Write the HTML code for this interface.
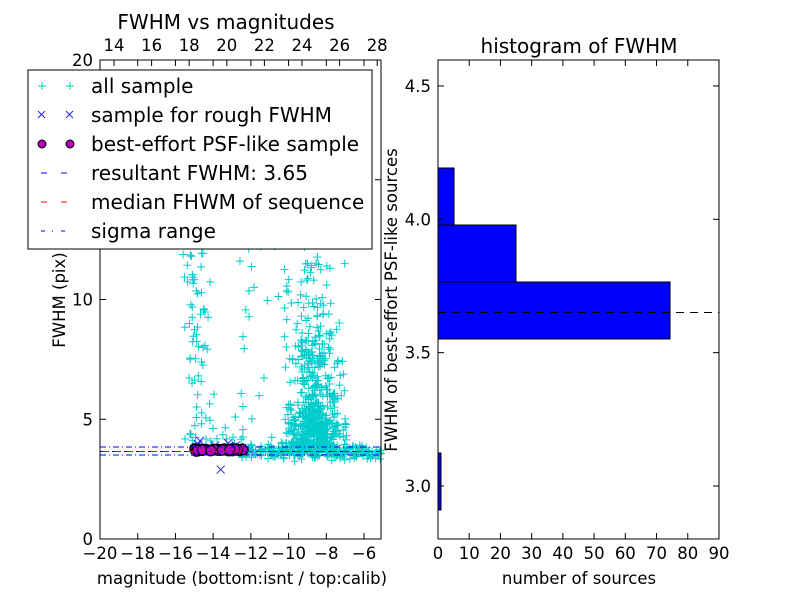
<!DOCTYPE html>
<html><head><meta charset="utf-8"><style>
body{margin:0;background:#fff;font-family:"Liberation Sans","DejaVu Sans",sans-serif}
svg text{font-family:"DejaVu Sans","Liberation Sans",sans-serif}
</style></head><body>
<svg id="s" width="800" height="600" xmlns="http://www.w3.org/2000/svg">
<rect width="800" height="600" fill="#fff"/>
<g id="pts"></g>
<g id="circ"></g>
<line x1="100" x2="381" y1="451.5" y2="451.5" stroke="#00f" stroke-dasharray="6,6"/>
<line x1="103" x2="381" y1="451.5" y2="451.5" stroke="#f00" stroke-dasharray="6,6"/>
<line x1="100" x2="381" y1="447" y2="447" stroke="#00f" stroke-dasharray="6,3,1,3"/>
<line x1="100" x2="381" y1="455" y2="455" stroke="#00f" stroke-dasharray="6,3,1,3"/>
<rect x="100" y="60" width="281" height="479" fill="none" stroke="#000"/>
<g stroke="#000" id="lt"></g>
<g font-size="16.5" fill="#000" id="ltx"></g>
<text x="226" y="29" font-size="20" text-anchor="middle">FWHM vs magnitudes</text>
<text x="242" y="584" font-size="16.5" text-anchor="middle">magnitude (bottom:isnt / top:calib)</text>
<text transform="translate(65,300) rotate(-90)" font-size="16.5" text-anchor="middle">FWHM (pix)</text>
<rect x="28" y="70" width="344" height="179" fill="#fff" stroke="#000"/>
<g font-size="20" fill="#000">
<text x="91" y="93">all sample</text>
<text x="91" y="122">sample for rough FWHM</text>
<text x="91" y="151">best-effort PSF-like sample</text>
<text x="91" y="180">resultant FWHM: 3.65</text>
<text x="91" y="209">median FHWM of sequence</text>
<text x="91" y="238">sigma range</text>
</g>
<g stroke="#0cc"><path d="M38,86h8M42,82v8M66,86h8M70,82v8"/></g>
<g stroke="#22f"><path d="M38,111l7,7M45,111l-7,7M66,111l7,7M73,111l-7,7"/></g>
<circle cx="42" cy="144" r="4" fill="#b0b" stroke="#000"/><circle cx="70" cy="144" r="4" fill="#b0b" stroke="#000"/>
<path d="M41,173h6M61,173h6" stroke="#00f"/>
<path d="M41,202h6M61,202h6" stroke="#f00"/>
<path d="M41,231h4M52,231h1M61,231h4" stroke="#00f"/>
<rect x="438" y="453" width="3" height="57" fill="#00f" stroke="#000"/>
<rect x="438" y="282" width="232" height="57" fill="#00f" stroke="#000"/>
<rect x="438" y="225" width="78" height="57" fill="#00f" stroke="#000"/>
<rect x="438" y="168" width="16" height="57" fill="#00f" stroke="#000"/>
<line x1="438" x2="719" y1="312.5" y2="312.5" stroke="#000" stroke-dasharray="8,6"/>
<rect x="438" y="60" width="281" height="479" fill="none" stroke="#000"/>
<g stroke="#000" id="rt"></g>
<g font-size="16.5" fill="#000" id="rtx"></g>
<text x="579" y="53" font-size="20" text-anchor="middle">histogram of FWHM</text>
<text x="579" y="584" font-size="16.5" text-anchor="middle">number of sources</text>
<text transform="translate(397,300) rotate(-90)" font-size="16.5" text-anchor="middle">FWHM of best-effort PSF-like sources</text>
</svg>
<script>
var NS="http://www.w3.org/2000/svg";
function el(p,t,a,txt){var e=document.createElementNS(NS,t);for(var k in a)e.setAttribute(k,a[k]);if(txt!=null)e.textContent=txt;document.getElementById(p).appendChild(e);}
var seed=7;function r(){seed=(seed*16807)%2147483647;return seed/2147483647;}
function g(){return (r()+r()+r()+r()-2)*0.87;}
function X(m){return 100+(m+20)*18.86;}function Y(v){return 539-v*23.95;}
var d="";
function add(m,v){if(m<-20||m>-5.1||v<0||v>20)return;var x=X(m),y=Y(v);d+="M"+(x-4)+","+y+"h8M"+x+","+(y-4)+"v8";}
for(var i=0;i<550;i++){add(-8.6+g()*1.3,4.6+Math.abs(g())*2.0+(r()<0.3?r()*4:0)-0.9);}
for(var i=0;i<120;i++){add(-9+g()*1.2,7+r()*11);}
for(var i=0;i<250;i++){add(-12.5+r()*7.4,3.65+g()*0.3);}
for(var i=0;i<60;i++){add(-14.8+g()*1.0,4+r()*8);}
for(var i=0;i<50;i++){add(-13+r()*6,4+r()*9);}
for(var i=0;i<20;i++){add(-15.5+r()*3,3.6+r()*1.5);}
el("pts","path",{d:d,stroke:"#0cc","stroke-width":1,fill:"none"});
var xd="";[[-14.7,4.1],[-14.8,3.95],[-13.6,2.9],[-13.2,4],[-12.8,3.9],[-14.2,3.8],[-13.9,3.9],[-12.6,3.85]].forEach(function(p){var x=X(p[0]),y=Y(p[1]);xd+="M"+(x-4)+","+(y-4)+"l8,8M"+(x+4)+","+(y-4)+"l-8,8";});
el("pts","path",{d:xd,stroke:"#22f",fill:"none"});
for(var i=0;i<70;i++){var m=-15+r()*2.6;el("circ","circle",{cx:X(m),cy:Y(3.72+g()*0.05),r:5,fill:"#b0b",stroke:"#000"});}
[-20,-18,-16,-14,-12,-10,-8,-6].forEach(function(m){var x=X(m);el("lt","line",{x1:x,x2:x,y1:539,y2:533});el("lt","line",{x1:x,x2:x,y1:60,y2:66});el("ltx","text",{x:x,y:559,"text-anchor":"middle"},"\u2212"+(-m));});
[14,16,18,20,22,24,26,28].forEach(function(m){var x=114+(m-14)*18.8;el("lt","line",{x1:x,x2:x,y1:60,y2:66});el("ltx","text",{x:x,y:51,"text-anchor":"middle"},m);});
[0,5,10,15,20].forEach(function(v){var y=Y(v);el("lt","line",{x1:100,x2:106,y1:y,y2:y});el("lt","line",{x1:381,x2:375,y1:y,y2:y});if(v!=15)el("ltx","text",{x:93,y:y+6,"text-anchor":"end"},v);});
for(var c=0;c<=90;c+=10){var x=438+c*3.122;el("rt","line",{x1:x,x2:x,y1:539,y2:533});el("rt","line",{x1:x,x2:x,y1:60,y2:66});el("rtx","text",{x:x,y:559,"text-anchor":"middle"},c);}
[3.0,3.5,4.0,4.5].forEach(function(v){var y=486-(v-3)*266.7;el("rt","line",{x1:438,x2:444,y1:y,y2:y});el("rt","line",{x1:719,x2:713,y1:y,y2:y});el("rtx","text",{x:431,y:y+6,"text-anchor":"end"},v.toFixed(1));});
</script>
</body></html>
